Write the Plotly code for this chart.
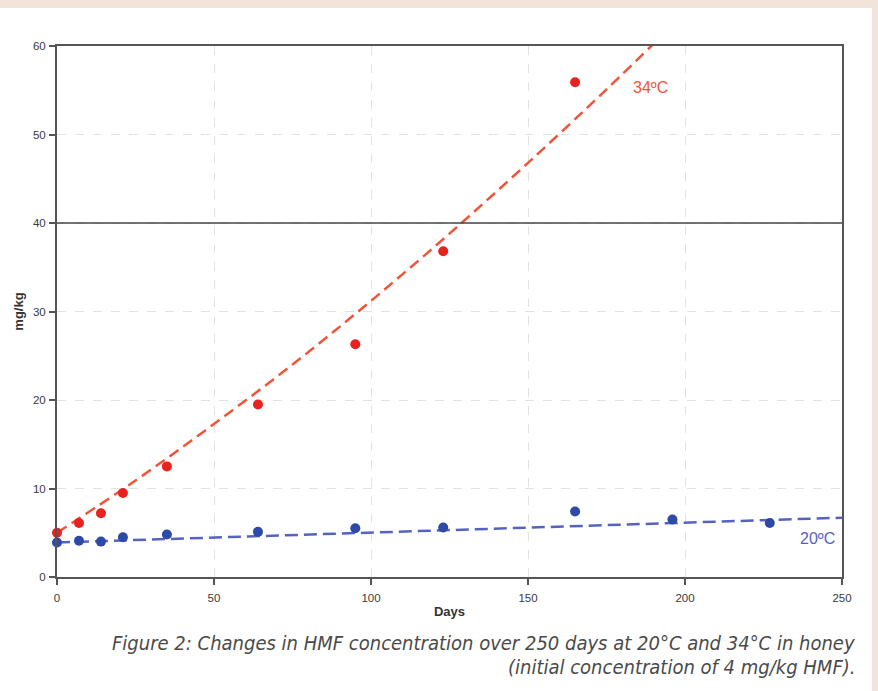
import plotly.graph_objects as go

# Data
days_34 = [0, 7, 14, 21, 35, 64, 95, 123, 165]
hmf_34 = [5.0, 6.1, 7.2, 9.5, 12.5, 19.5, 26.3, 36.8, 55.9]
days_20 = [0, 7, 14, 21, 35, 64, 95, 123, 165, 196, 227]
hmf_20 = [3.9, 4.1, 4.0, 4.5, 4.8, 5.1, 5.5, 5.6, 7.4, 6.5, 6.1]

# Trend lines
fit34_days = [0, 25, 50, 75, 100, 125, 150, 175, 195]
fit34_vals = [5.0, 10.9, 17.3, 24.0, 31.2, 38.8, 46.8, 55.1, 62.0]
fit20_days = [0, 250]
fit20_vals = [3.9, 6.7]

x_ticks = [0, 50, 100, 150, 200, 250]
y_ticks = [0, 10, 20, 30, 40, 50, 60]

RED = "#e8231f"
RED_LINE = "#f0553a"
BLUE = "#2d4aa8"
BLUE_LINE = "#5563c0"

fig = go.Figure()
fig.add_trace(go.Scatter(x=fit34_days, y=fit34_vals, mode="lines", line_shape="spline",
                         line=dict(color=RED_LINE, width=2.5, dash="11px,6px"), hoverinfo="skip"))
fig.add_trace(go.Scatter(x=fit20_days, y=fit20_vals, mode="lines",
                         line=dict(color=BLUE_LINE, width=2.5, dash="13px,6px"), hoverinfo="skip"))
fig.add_trace(go.Scatter(x=days_34, y=hmf_34, mode="markers", cliponaxis=False,
                         marker=dict(color=RED, size=10)))
fig.add_trace(go.Scatter(x=days_20, y=hmf_20, mode="markers", cliponaxis=False,
                         marker=dict(color=BLUE, size=10)))

axis_common = dict(showline=True, linecolor="#555555", linewidth=2, mirror=True,
                   ticks="outside", ticklen=6, tickcolor="#555555", tickwidth=1.5,
                   tickfont=dict(family="Liberation Sans, Arial", size=11.5, color="#3a3a3a"),
                   showgrid=True, gridcolor="#e2e2e2", griddash="dash", gridwidth=1,
                   zeroline=False)

fig.update_xaxes(range=[0, 250], tickvals=x_ticks, ticklabelstandoff=3, **axis_common,
                 title=dict(text="<b>Days</b>", font=dict(family="Liberation Sans, Arial", size=13, color="#333333"),
                            standoff=4))
fig.update_yaxes(range=[0, 60], tickvals=y_ticks, ticklabelstandoff=1, **axis_common,
                 title=dict(text="<b>mg/kg</b>", font=dict(family="Liberation Sans, Arial", size=13, color="#333333"),
                            standoff=6))

fig.add_shape(type="line", xref="x domain", yref="y", x0=0, x1=1, y0=40, y1=40,
              line=dict(color="#444444", width=1.5))
# white panel on peach background
fig.add_shape(type="rect", xref="paper", yref="paper", layer="below",
              x0=-57/785, x1=(872-57)/785, y0=-114/531, y1=(577-8)/531,
              fillcolor="white", line=dict(width=0))

fig.add_annotation(x=182.8, y=55.3, xref="x", yref="y", text="34ºC", showarrow=False,
                   xanchor="left", yanchor="middle",
                   font=dict(family="Liberation Sans, Arial", size=16, color=RED_LINE))
fig.add_annotation(x=248.4, y=4.3, xref="x", yref="y", text="20ºC", showarrow=False,
                   xanchor="right", yanchor="middle",
                   font=dict(family="Liberation Sans, Arial", size=16, color=BLUE_LINE))

cap_font = dict(family="DejaVu Sans Condensed, Arial", size=20, color="#4a4a4a")
fig.add_annotation(x=(857-57)/785, y=-(643-577)/531, xref="paper", yref="paper",
                   text="<i>Figure 2: Changes in HMF concentration over 250 days at 20°C and 34°C in honey</i>",
                   showarrow=False, xanchor="right", yanchor="middle", font=cap_font)
fig.add_annotation(x=(857-57)/785, y=-(667-577)/531, xref="paper", yref="paper",
                   text="<i>(initial concentration of 4 mg/kg HMF).</i>",
                   showarrow=False, xanchor="right", yanchor="middle", font=cap_font)

fig.update_layout(width=878, height=691, showlegend=False,
                  margin=dict(l=57, r=36, t=46, b=114),
                  paper_bgcolor="#f2e3db", plot_bgcolor="white")

fig.write_html("out.html", config={"displayModeBar": False},
               post_script="document.body.style.margin='0';")
